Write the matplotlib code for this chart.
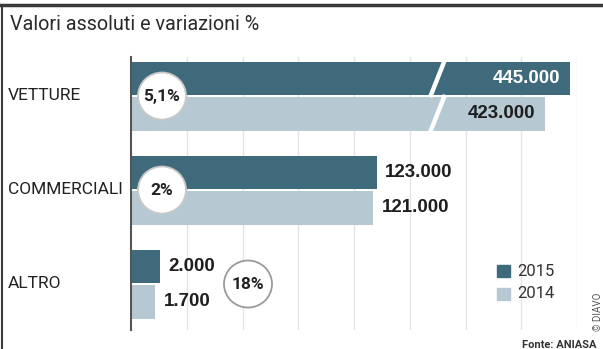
import numpy as np
import matplotlib
matplotlib.use("Agg")
import matplotlib.pyplot as plt
from matplotlib.patches import Ellipse
from matplotlib.lines import Line2D
from matplotlib.transforms import ScaledTranslation, blended_transform_factory

# dati
categorie = ["VETTURE", "COMMERCIALI", "ALTRO"]
val_2015 = [445000, 123000, 2000]
val_2014 = [423000, 121000, 1700]
variazioni = ["5,1%", "2%", "18%"]
anni = ["2015", "2014"]

DARK = "#3f6a7b"
LIGHT = "#b6c9d3"
GRID = "#e1e5e8"

# scala "spezzata" per l'asse x (barre piccole allargate, barre grandi interrotte)
KNOT_V = [0, 2500, 130000, 400000, 460000]
KNOT_P = [0, 36, 258, 388, 456]


def fwd(x):
    return np.interp(x, KNOT_V, KNOT_P)


def inv(p):
    return np.interp(p, KNOT_P, KNOT_V)


def fmt(v):
    return f"{v:,}".replace(",", ".")


plt.rcParams["font.family"] = ["Roboto", "DejaVu Sans"]

fig = plt.figure(figsize=(6.03, 3.49), dpi=100)
ax = fig.add_axes([131 / 603, 19 / 349, 446 / 603, 273 / 349])
ax.set_xscale("function", functions=(fwd, inv))
ax.set_xlim(0, 451000)
ax.set_ylim(2.489, -0.415)

y = np.arange(len(categorie))
off = 0.187
h = 0.36
ax.barh(y - off, val_2015, height=h, color=DARK, zorder=2)
ax.barh(y + off, val_2014, height=h, color=LIGHT, zorder=2)

# linee verticali della griglia
for k in range(1, 9):
    ax.plot([k / 8, k / 8], [0, 1], transform=ax.transAxes, color=GRID, lw=1.0, zorder=0)

for s in ["top", "right", "bottom"]:
    ax.spines[s].set_visible(False)
ax.spines["left"].set_color("#555555")
ax.spines["left"].set_linewidth(1.5)
ax.set_xticks([])
ax.set_yticks([])

# interruzione della barra VETTURE
for yy in (y[0] - off, y[0] + off):
    ax.plot([215000, 246000], [yy + h / 2 + 0.02, yy - h / 2 - 0.02], color="white",
            lw=3.2, zorder=3, solid_capstyle="butt")

# etichette valori
lab_kw = dict(fontsize=13.5, fontweight="bold", family=["Liberation Sans", "DejaVu Sans"],
              va="center", textcoords="offset points", zorder=5)
for i, (a, b) in enumerate(zip(val_2015, val_2014)):
    if i == 0:
        ax.annotate(fmt(a), (a, y[i] - off), xytext=(-7, 0), ha="right", color="white", **lab_kw)
        ax.annotate(fmt(b), (b, y[i] + off), xytext=(-7, 0), ha="right", color="#1e1e1e", **lab_kw)
    else:
        ax.annotate(fmt(a), (a, y[i] - off), xytext=(6, 0), ha="left", color="#1e1e1e", **lab_kw)
        ax.annotate(fmt(b), (b, y[i] + off), xytext=(6, 0), ha="left", color="#1e1e1e", **lab_kw)

# cerchi con le variazioni
cx = [31 / 446, 31 / 446, 117 / 446]
bt = blended_transform_factory(ax.transAxes, ax.transData)
for i, txt in enumerate(variazioni):
    tr = fig.dpi_scale_trans + ScaledTranslation(cx[i], y[i], bt)
    edge = "#9a9a9a" if i == 2 else "#c8c8c8"
    ax.add_patch(Ellipse((0, 0), 0.48, 0.47, transform=tr, facecolor="white",
                         edgecolor=edge, lw=1.3, zorder=6))
    ax.text(cx[i], y[i], txt, transform=bt, ha="center", va="center", fontsize=12.5,
            fontweight="bold", color="#222222", zorder=7)

# categorie
for i, c in enumerate(categorie):
    fig.text(8 / 603, 1 - (96 + 94 * i) / 349, c, fontsize=12.5, color="#222222", va="center")

# legenda
for j, (an, col) in enumerate(zip(anni, [DARK, LIGHT])):
    yy = 1 - (271 + 23 * j) / 349
    fig.patches.append(plt.Rectangle((497 / 603, yy - 6 / 349), 13 / 603, 12 / 349,
                                     transform=fig.transFigure, color=col))
    fig.text(517 / 603, yy, an, fontsize=12, color="#333333", va="center")

# titolo e cornice
fig.text(10 / 603, 1 - 25 / 349, "Valori assoluti e variazioni %", fontsize=14.2,
         color="#2a2a2a", va="center")
fig.add_artist(Line2D([0, 1], [1 - 4.5 / 349] * 2, color="#3a3a3a", lw=2.5))
fig.add_artist(Line2D([1.5 / 603] * 2, [0, 1 - 4.5 / 349], color="#3a3a3a", lw=1.5))

fig.text(596 / 603, 1 - 340 / 349, "Fonte: ANIASA", fontsize=8, fontweight="bold",
         color="#333333", ha="right", va="top")
fig.text(598 / 603, 1 - 312 / 349, "© DIAVO", fontsize=7, color="#555555",
         rotation=90, ha="center", va="center")

fig.savefig("out.png", dpi=100)
